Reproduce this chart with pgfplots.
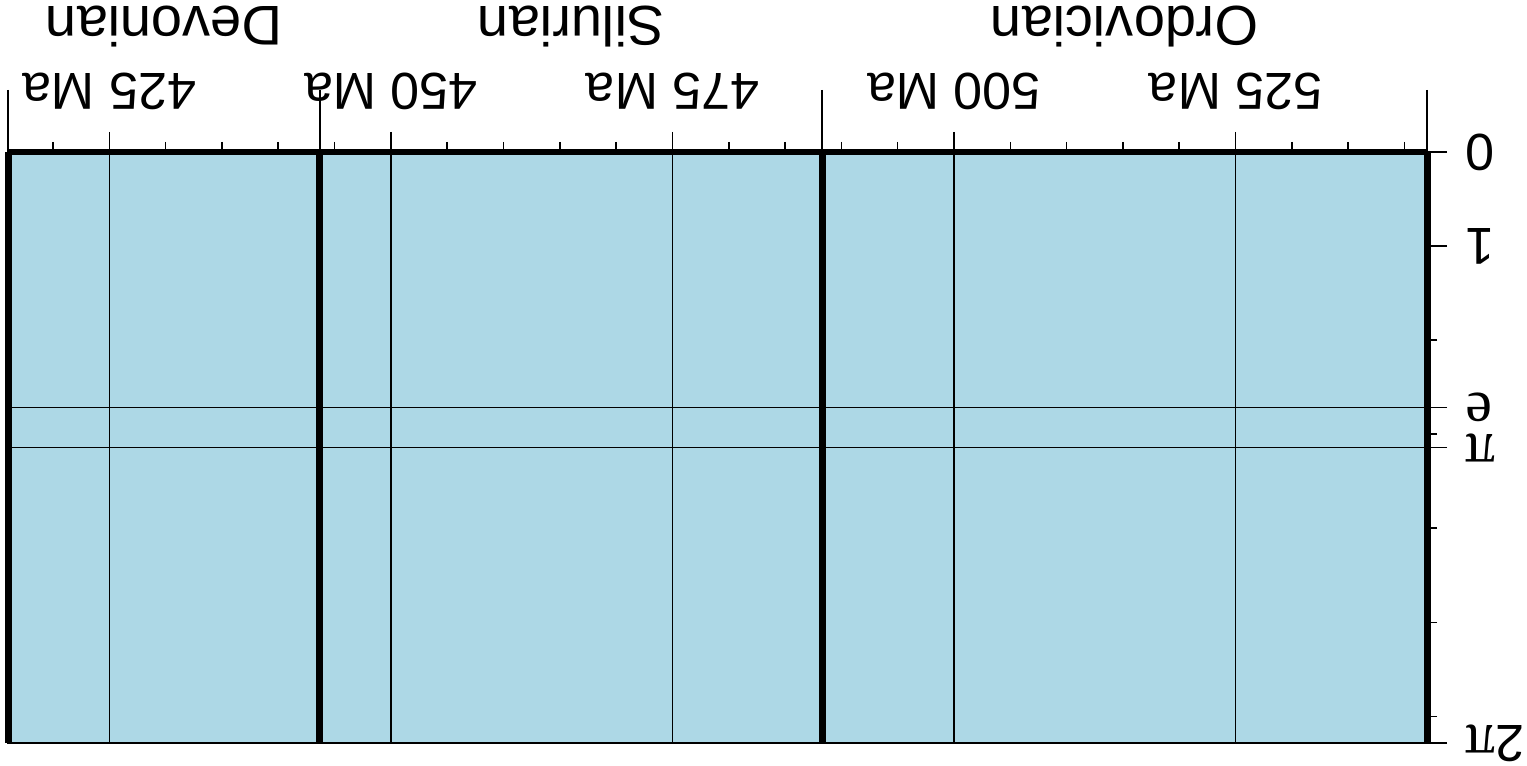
\documentclass[border=0pt]{standalone}
\usepackage{fontspec}
\setmainfont{Liberation Sans}
\newfontfamily\seriffont{Liberation Serif}
\newcommand{\sym}[1]{{\fontsize{30}{32}\selectfont\seriffont #1}}
\usepackage{pgfplots}
\pgfplotsset{compat=1.18}
\definecolor{lb}{RGB}{173,216,230}
\begin{document}
\begin{tikzpicture}
\begin{axis}[name=ax, scale only axis, width=709.5pt, height=295.5pt,
  xmin=416, xmax=542, ymin=0, ymax=6.283185, y dir=reverse, clip=false,
  axis background/.style={fill=lb},
  axis line style={line width=1pt},
  tick align=outside,
  tick style={line width=0.8pt, black},
  major tick length=10pt, minor tick length=5pt,
  xtick={425,450,475,500,525},
  xticklabels={425 Ma,450 Ma,475 Ma,500 Ma,525 Ma},
  minor xtick={420,430,435,440,445,455,460,465,470,480,485,490,495,505,510,515,520,530,535,540},
  extra x ticks={416,443.7,488.3,542}, extra x tick labels={},
  extra x tick style={major tick length=31pt, grid=none},
  xtick pos=upper, xticklabel pos=upper,
  xticklabel shift=11pt,
  xmajorgrids=true,
  grid style={line width=0.6pt, black},
  xticklabel style={rotate=180, anchor=north, inner sep=0pt, font=\fontsize{26}{30}\selectfont},
  ytick={0,1,6.283185}, yticklabels={0,1,2\sym{π}},
  minor ytick={2,3,4,5,6},
  extra y ticks={2.71828,3.14159}, extra y tick labels={\sym{e},\sym{π}},
  extra y tick style={grid=major},
  ytick pos=right, yticklabel pos=right,
  yticklabel shift=9pt,
  yticklabel style={rotate=180, anchor=east, inner sep=0pt, font=\fontsize{26}{30}\selectfont},
]
\addplot[line width=3pt, black] coordinates {(416,0) (542,0)};
\addplot[line width=3.5pt, black] coordinates {(416,0) (416,6.283185)};
\addplot[line width=3.5pt, black] coordinates {(443.7,0) (443.7,6.283185)};
\addplot[line width=3.5pt, black] coordinates {(488.3,0) (488.3,6.283185)};
\addplot[line width=3.5pt, black] coordinates {(542,0) (542,6.283185)};
\node[yshift=52.5pt, rotate=180, anchor=north, inner sep=0pt, font=\fontsize{28}{32}\selectfont] at (axis cs:429.85,0) {Devonian};
\node[yshift=52.5pt, rotate=180, anchor=north, inner sep=0pt, font=\fontsize{28}{32}\selectfont] at (axis cs:466,0) {Silurian};
\node[yshift=52.5pt, rotate=180, anchor=north, inner sep=0pt, font=\fontsize{28}{32}\selectfont] at (axis cs:515.15,0) {Ordovician};
\end{axis}
\pgfresetboundingbox
\path[use as bounding box] (ax.south west) ++(-4pt,-11.5pt) rectangle ++(763.5pt,383pt);
\end{tikzpicture}
\end{document}
